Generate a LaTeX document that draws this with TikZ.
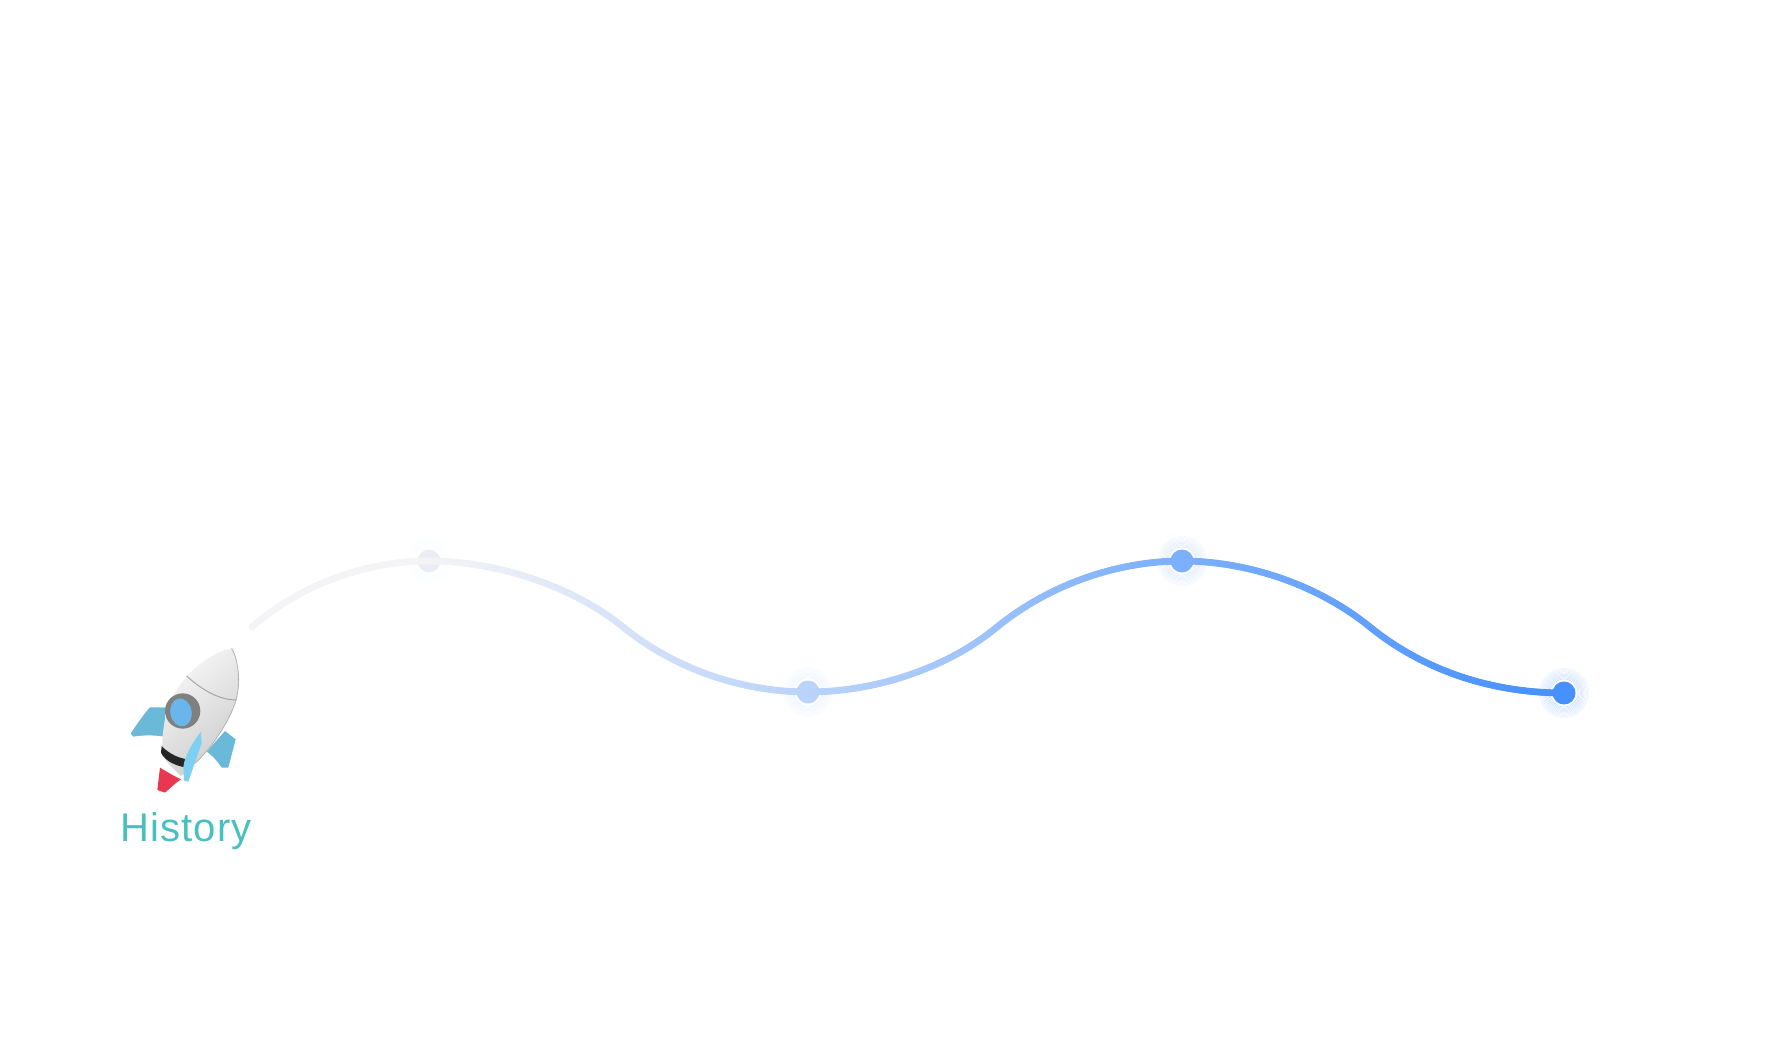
\documentclass[tikz,border=0pt]{standalone}
\usepackage{xcolor}
\usepackage{fontspec}
\setmainfont[LetterSpace=3]{Liberation Sans}
\usetikzlibrary{decorations.markings}

\definecolor{trailgray}{HTML}{F4F4F6}
\definecolor{trailblue}{HTML}{4690FF}
\definecolor{titleteal}{HTML}{48C1BE}
\definecolor{finblue}{HTML}{6BB9D8}
\definecolor{frontfin}{HTML}{7DD0F2}
\definecolor{portblue}{HTML}{68B6EC}
\definecolor{nozzlered}{HTML}{E8384F}
\definecolor{firstdot}{HTML}{EAEEF4}

\tikzset{
  stop/.style={circle, draw=none, minimum size=23pt, inner sep=0pt},
  trail/.style 2 args={postaction={decorate, decoration={markings,
    mark=between positions 0 and 1 step 1.5pt with {
      \pgfmathsetmacro\trailmix{#1+(#2-#1)*\pgfkeysvalueof{/pgf/decoration/mark info/sequence number}*1.5/\pgfdecoratedpathlength}
      \fill[trailblue!\trailmix!trailgray] (0,0) circle (3.5pt);
    }}}},
}

\begin{document}
\begin{tikzpicture}[x=1pt, y=-1pt]
\useasboundingbox (0,0) rectangle (1777,1047);

% rings
\foreach \cx/\cy/\ringop in {429/561/0.06, 808/692/0.22, 1182/561/0.40, 1564/693/0.60} {
  \foreach \r in {14,15.2,...,25} {
    \draw[trailblue, line width=0.5pt, opacity=\ringop*(1.08-\r/27)] (\cx,\cy) circle (\r pt);
  }
}

\node[stop, fill=firstdot] (pt1) at (429,561) {};
\node[stop, fill=trailblue!33!trailgray] (pt2) at (808,692) {};
\node[stop, fill=trailblue!69!trailgray] (pt3) at (1182,561) {};
\node[stop, fill=trailblue] (pt4) at (1564,693) {};
\coordinate (start) at (252,627);
\coordinate (bend1) at (623,627);
\coordinate (bend2) at (997,627);
\coordinate (bend3) at (1370,627);

\path[trail={0}{0}] (start) .. controls (300,585) and (365,561) .. (pt1.center);
\path[trail={0}{33}] (pt1.center) .. controls (493,561) and (570,584) .. (bend1) .. controls (676,670) and (744,692) .. (pt2.center);
\path[trail={33}{69}] (pt2.center) .. controls (872,692) and (945,670) .. (bend2) .. controls (1050,584) and (1118,561) .. (pt3.center);
\path[trail={69}{100}] (pt3.center) .. controls (1246,561) and (1317,584) .. (bend3) .. controls (1423,670) and (1491,693) .. (pt4.center);

% rocket
\begin{scope}[shift={(100,620)}, x=0.3333pt, y=-0.3333pt]
\fill[finblue] (195,262) -- (150,262) .. controls (125,290) and (110,315) .. (92,340) -- (100,350) .. controls (130,345) and (160,345) .. (195,350) -- cycle;
\fill[finblue] (375,333) -- (407,358) -- (385,443) -- (365,443) .. controls (350,420) and (335,405) .. (320,395) -- cycle;
\fill[nozzlered] (180,443) .. controls (200,455) and (225,470) .. (243,478) .. controls (225,490) and (210,505) .. (195,518) -- (172,510) -- cycle;
\shade[left color=white!97!black, right color=white!80!black, shading angle=40] (395,85) .. controls (415,120) and (425,190) .. (405,250) .. controls (385,310) and (330,390) .. (285,430) .. controls (270,445) and (255,458) .. (243,468) -- (200,425) .. controls (190,410) and (183,380) .. (190,330) .. controls (195,290) and (205,230) .. (260,170) .. controls (295,130) and (345,95) .. (395,85) -- cycle;
\fill[black!85] (185,378) .. controls (205,400) and (240,420) .. (285,420) -- (272,444) .. controls (235,442) and (195,425) .. (183,398) -- cycle;
\draw[black!35, line width=1pt] (260,168) .. controls (295,200) and (350,240) .. (410,240);
\draw[black!30, line width=0.8pt] (395,85) .. controls (415,120) and (425,190) .. (405,250) .. controls (385,310) and (330,390) .. (285,430);
\fill[frontfin] (303,335) -- (305,370) -- (265,485) -- (252,482) -- (250,440) .. controls (255,405) and (280,365) .. (303,335) -- cycle;
\fill[black!50] (248,273) circle (53);
\fill[portblue, rotate around={10:(243,277)}] (243,277) ellipse (32 and 42);
\end{scope}

\node[anchor=base west, inner sep=0pt, text=titleteal, font=\fontsize{40}{42}\selectfont] (title) at (120,841) {History};
\end{tikzpicture}
\end{document}
